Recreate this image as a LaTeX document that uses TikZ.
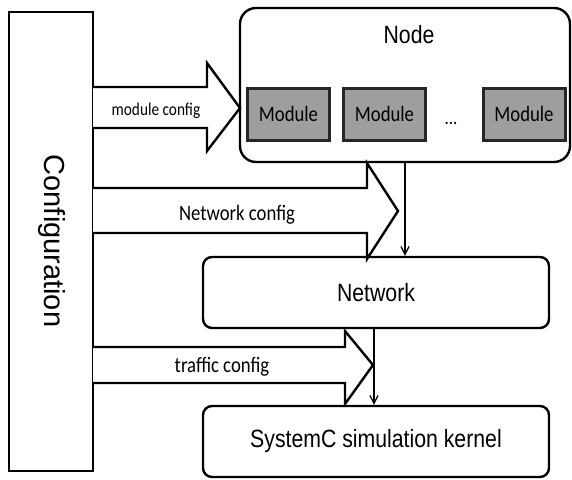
\documentclass[tikz,border=0pt]{standalone}
\usepackage{fontspec}
\usetikzlibrary{arrows.meta}
\newfontfamily\calib[FakeStretch=0.85]{Carlito}
\newfontfamily\arialc[FakeStretch=0.85]{Liberation Sans}
\newfontfamily\arialn{Liberation Sans}
\begin{document}
\begin{tikzpicture}[x=1pt,y=-1pt,
  box/.style={draw=black,line width=2.4pt,rectangle,inner sep=0pt,fill=white},
  rbox/.style={box,rounded corners=9pt},
  modbox/.style={draw=black!85,line width=3pt,fill=black!38,rectangle,inner sep=0pt,
     minimum width=82pt,minimum height=52pt,font=\calib\fontsize{22}{24}\selectfont},
  blockarrow/.style={draw=black,line width=2.4pt,fill=white,line join=miter},
  varrow/.style={draw=black,line width=1.2pt,-{Straight Barb[length=8pt,width=8pt,line width=1.2pt]}},
  cfglabel/.style={anchor=base,inner sep=0pt,font=\calib\fontsize{22}{24}\selectfont},
  boxlabel/.style={font=\arialc\fontsize{25}{28}\selectfont}
]
\useasboundingbox (0,0) rectangle (572,479);

% configuration column
\node[box,minimum width=84pt,minimum height=459pt] (cfg) at (51,241.5) {};
\node[rotate=-90,inner sep=0pt,font=\arialn\fontsize{29}{32}\selectfont] (cfgtext) at (52,241) {Configuration};

% node box with modules
\node[box,rounded corners=16pt,minimum width=330pt,minimum height=154pt] (nodebox) at (405,85) {};
\node[anchor=base,inner sep=0pt,font=\arialc\fontsize{25}{28}\selectfont] (nodetext) at (409,43) {Node};
\node[modbox] (m1) at (288.5,114) {Module};
\node[modbox] (m2) at (384.5,114) {Module};
\node[inner sep=0pt,anchor=base,font=\calib\fontsize{20}{22}\selectfont] (dots) at (451,124) {...};
\node[modbox] (m3) at (524,114) {Module};

% network and kernel
\node[rbox,boxlabel,minimum width=346pt,minimum height=71pt] (net) at (376,292.5) {Network};
\node[rbox,boxlabel,minimum width=346pt,minimum height=71pt] (kern) at (376,441.5) {SystemC simulation kernel};

% block arrows
\draw[blockarrow] (93,87) -- (207,87) -- (207,63) -- (240,108) -- (207,151) -- (207,128) -- (93,128);
\node[cfglabel,font=\calib\fontsize{18}{20}\selectfont] (lmod) at (156,115) {module config};

\draw[blockarrow] (93,188) -- (367,188) -- (367,163) -- (398,211) -- (367,259) -- (367,233) -- (93,233);
\node[cfglabel] (lnet) at (237,220) {Network config};

\draw[blockarrow] (93,347) -- (345,347) -- (345,331) -- (373,365) -- (345,404) -- (345,383) -- (93,383);
\node[cfglabel] (ltraf) at (222,372) {traffic config};

% vertical connectors
\coordinate (va) at (405,0);
\coordinate (vb) at (374,0);
\draw[varrow] (nodebox.south -| va) -- (net.north -| va);
\draw[varrow] (net.south -| vb) -- (kern.north -| vb);
\end{tikzpicture}
\end{document}
